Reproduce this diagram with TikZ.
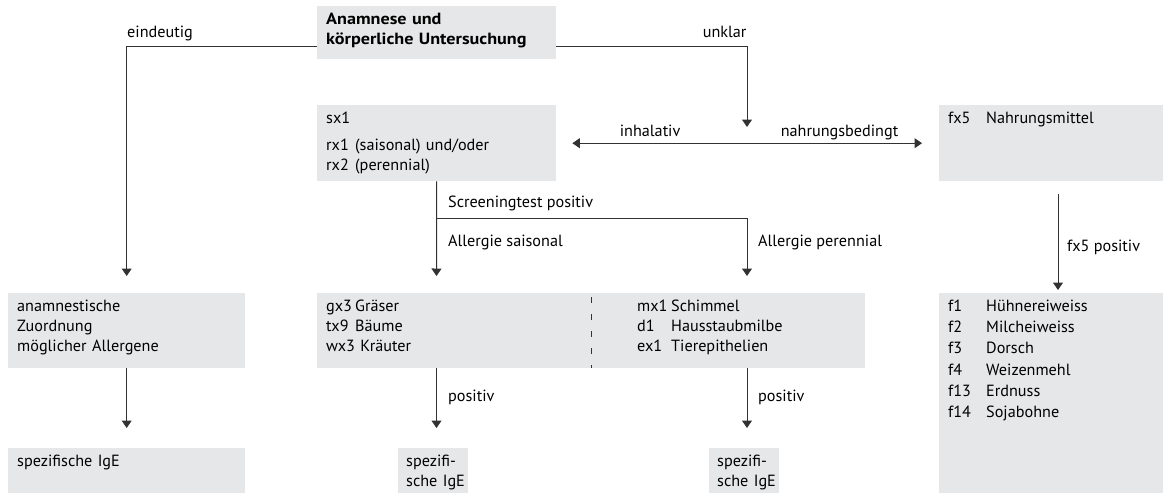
\documentclass[tikz,border=0pt]{standalone}
\usepackage{fontspec}
\setmainfont{PT Sans}[BoldFeatures={FakeStretch=1.12}]
\usetikzlibrary{arrows.meta}
\definecolor{boxgray}{RGB}{230,231,232}
\definecolor{linegray}{RGB}{50,50,50}
\newcommand{\allcode}[2][29pt]{\makebox[#1][l]{#2}}

\begin{document}
\begin{tikzpicture}[x=1pt,y=-1pt,font=\fontsize{16.2}{20}\selectfont,
  box/.style={fill=boxgray,anchor=north west,inner xsep=9pt,inner ysep=0pt,
    align=left,text height=18pt},
  arr/.style={draw=linegray,line width=1pt,-{Triangle[width=10pt,length=7.5pt]}},
  darr/.style={draw=linegray,line width=1pt,
    {Triangle[width=10pt,length=7.5pt]}-{Triangle[width=10pt,length=7.5pt]}},
  lbl/.style={anchor=base west,inner sep=0pt}]
  \useasboundingbox (0,0) rectangle (1170,493);

  % boxes
  \node[box,text width=221pt,text depth=35pt] (anam) at (317,6)
    {\bfseries Anamnese und\\körperliche Untersuchung};
  \node[box,text width=221pt,text depth=58pt] (sx) at (317,105)
    {sx1\\[7pt]\allcode{rx1}(saisonal) und/oder\\\allcode{rx2}(perennial)};
  \node[box,text width=206pt,text depth=58pt] (fx) at (939,105)
    {\allcode[38pt]{fx5}Nahrungsmittel};
  \node[box,text width=219pt,text depth=57pt] (allg) at (8,293)
    {anamnestische\\Zuordnung\\möglicher Allergene};
  \node[box,text width=256pt,text depth=57pt] (gx) at (317,293)
    {\allcode{gx3}Gräser\\\allcode{tx9}Bäume\\wx3 Kräuter};
  \node[box,inner xsep=46pt,text width=182pt,text depth=57pt] (mx) at (591,293)
    {\allcode[34pt]{mx1}Schimmel\\\allcode[34pt]{d1}Hausstaubmilbe\\
     \allcode[34pt]{ex1}Tierepithelien};
  \node[box,text width=206pt,text depth=182pt,font=\fontsize{16.2}{21.3}\selectfont]
    (flist) at (939,293)
    {\allcode[38pt]{f1}Hühnereiweiss\\\allcode[38pt]{f2}Milcheiweiss\\
     \allcode[38pt]{f3}Dorsch\\\allcode[38pt]{f4}Weizenmehl\\
     \allcode[38pt]{f13}Erdnuss\\\allcode[38pt]{f14}Sojabohne};
  \node[box,text width=219pt,text depth=27pt] (spz1) at (8,448) {spezifische IgE};
  \node[box,inner xsep=8pt,text width=54pt,text depth=27pt] (spz2) at (398,448)
    {spezifi-\\\mbox{sche IgE}};
  \node[box,inner xsep=8pt,text width=54pt,text depth=27pt] (spz3) at (709,448)
    {spezifi-\\\mbox{sche IgE}};

  % connectors
  \coordinate (eind) at (127,46);
  \coordinate (unkl) at (747,46);
  \coordinate (unkltip) at (747,127);
  \coordinate (scr) at (436.5,218);
  \coordinate (sais) at (436.5,276);
  \coordinate (pere) at (747,276);
  \coordinate (fxcol) at (1058,0);

  \draw[arr,shorten >=17pt] (anam.west|-eind) -| node[lbl,yshift=9pt]{eindeutig} (allg.north);
  \draw[arr] (anam.east|-unkl) -| node[lbl,anchor=base east,yshift=9pt]{unklar} (unkltip);
  \draw[darr,shorten <=16pt,shorten >=17pt] (sx) -- node[pos=.245,anchor=base,yshift=7pt]{inhalativ}
    node[pos=.74,anchor=base,yshift=7pt]{nahrungsbedingt} (fx);
  \draw[arr] (sx.south) -- (sais);
  \draw[arr] (scr) -| (pere);
  \node[lbl] (scrlbl) at (448,207) {Screeningtest positiv};
  \node[lbl] (saislbl) at (448,246) {Allergie saisonal};
  \node[lbl] (perelbl) at (758,246) {Allergie perennial};
  \draw[arr,shorten <=13pt,shorten >=3pt] (fx.south-|fxcol) -- (flist.north-|fxcol);
  \node[lbl] (fxlbl) at (1067,251) {fx5 positiv};
  \draw[arr,shorten >=20pt] (allg) -- (spz1);
  \draw[arr,shorten >=20pt] (sais|-gx.south) -- (sais|-spz2.north);
  \draw[arr,shorten >=20pt] (pere|-mx.south) -- (pere|-spz3.north);
  \node[lbl] (pos1) at (448,401) {positiv};
  \node[lbl] (pos2) at (758,401) {positiv};
  \draw[linegray,line width=1pt,dash pattern=on 6pt off 11pt,dash phase=13pt]
    (gx.north east) -- (gx.south east);
\end{tikzpicture}
\end{document}
